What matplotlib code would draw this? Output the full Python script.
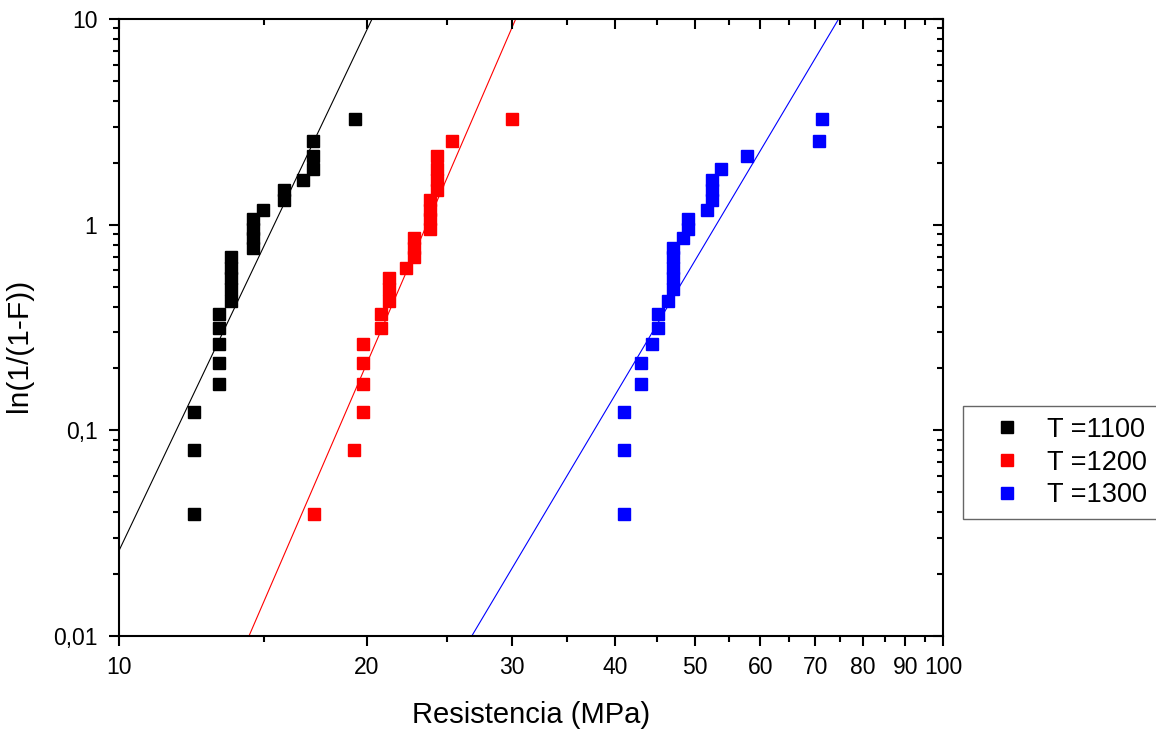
"""Weibull plot of strength at three sintering temperatures."""
import matplotlib
matplotlib.use("Agg")
import matplotlib.pyplot as plt

plt.rcParams["font.family"] = ["Liberation Sans", "DejaVu Sans"]

# ---------------------------------------------------------------------------
# Data
# ---------------------------------------------------------------------------
# ln(1/(1-F)) plotting positions, shared by all three series
ln_inv = [0.0392, 0.0800, 0.1226, 0.1671, 0.2136, 0.2624, 0.3137, 0.3677,
          0.4249, 0.4855, 0.5500, 0.6190, 0.6931, 0.7732, 0.8602, 0.9555,
          1.0609, 1.1787, 1.3122, 1.4663, 1.6487, 1.8718, 2.1595, 2.5649,
          3.2581]

res_1100 = [12.33, 12.33, 12.33, 13.21, 13.21, 13.21, 13.21, 13.21,
            13.66, 13.66, 13.66, 13.66, 13.66, 14.53, 14.53, 14.53,
            14.53, 14.97, 15.86, 15.86, 16.74, 17.18, 17.18, 17.18,
            19.34]
res_1200 = [17.24, 19.27, 19.78, 19.78, 19.78, 19.78, 20.80, 20.80,
            21.29, 21.29, 21.29, 22.30, 22.83, 22.83, 22.83, 23.85,
            23.85, 23.85, 23.85, 24.34, 24.34, 24.34, 24.34, 25.38,
            29.99]
res_1300 = [41.01, 41.01, 41.01, 43.05, 43.05, 44.39, 45.10, 45.10,
            46.42, 47.07, 47.07, 47.07, 47.07, 47.07, 48.40, 49.08,
            49.08, 51.76, 52.44, 52.44, 52.44, 53.83, 57.82, 70.65,
            71.37]

# Fitted Weibull lines: end points (x, y)
fit_1100_x = [10.0, 20.28]
fit_1100_y = [0.026, 10.0]
fit_1200_x = [14.38, 30.3]
fit_1200_y = [0.01, 10.0]
fit_1300_x = [26.8, 74.7]
fit_1300_y = [0.01, 10.0]

labels = ["T =1100", "T =1200", "T =1300"]
colors = ["#000000", "#FF0000", "#0000FF"]

x_ticks = [10, 20, 30, 40, 50, 60, 70, 80, 90, 100]
x_tick_labels = ["10", "20", "30", "40", "50", "60", "70", "80", "90", "100"]
x_minor = [15, 25, 35, 45, 55, 65, 75, 85, 95]
y_ticks = [0.01, 0.1, 1, 10]
y_tick_labels = ["0,01", "0,1", "1", "10"]
y_minor = [m * d for d in (0.01, 0.1, 1) for m in range(2, 10)]


def style_axes(ax):
    ax.set_xscale("log")
    ax.set_yscale("log")
    ax.set_xlim(10, 100)
    ax.set_ylim(0.01, 10)
    ax.set_xticks(x_ticks)
    ax.set_xticks(x_minor, minor=True)
    ax.set_yticks(y_ticks)
    ax.set_yticks(y_minor, minor=True)


fig = plt.figure(figsize=(11.56, 7.31), dpi=100)
rect = [119 / 1156, 1 - 636 / 731, (943 - 119) / 1156, (636 - 19) / 731]
ax = fig.add_axes(rect)
style_axes(ax)

series = [res_1100, res_1200, res_1300]
fits = [(fit_1100_x, fit_1100_y), (fit_1200_x, fit_1200_y), (fit_1300_x, fit_1300_y)]
for xs, (fx, fy), lab, c in zip(series, fits, labels, colors):
    ax.plot(xs, ln_inv, ls="none", marker="s", ms=9, color=c, mec=c, label=lab,
            zorder=3)
    ax.plot(fx, fy, color=c, lw=0.8, zorder=2)

ax.set_xticklabels(x_tick_labels)
ax.set_yticklabels(y_tick_labels)
ax.xaxis.set_minor_formatter(plt.NullFormatter())
ax.yaxis.set_minor_formatter(plt.NullFormatter())
ax.tick_params(which="both", direction="out", width=1.5, labelsize=16.5,
               top=False, right=False)
ax.tick_params(which="major", length=7.5)
ax.tick_params(which="minor", length=4)
ax.tick_params(axis="x", which="major", pad=7)
ax.tick_params(axis="y", which="major", pad=8)
for sp in ax.spines.values():
    sp.set_linewidth(1.5)

ax.set_xlabel("Resistencia (MPa)", fontsize=21, labelpad=16)
ax.set_ylabel("ln(1/(1-F))", fontsize=21.5)
ax.yaxis.set_label_coords((33 - 119) / 824, (636 - 345) / 617)

# top / right ticks point inward (Origin style)
ax2 = fig.add_axes(rect)
style_axes(ax2)
ax2.patch.set_visible(False)
for sp in ax2.spines.values():
    sp.set_visible(False)
ax2.tick_params(which="both", direction="in", width=1.5, bottom=False,
                left=False, top=True, right=True, labelbottom=False,
                labelleft=False)
ax2.tick_params(which="major", length=7.5)
ax2.tick_params(which="minor", length=4)

leg_top = 1 - 406 / 731
leg = ax.legend(loc="upper left",
                bbox_to_anchor=(963 / 1156, leg_top - 0.1, 200 / 1156, 0.1),
                bbox_transform=fig.transFigure, mode="expand",
                borderaxespad=0, fontsize=19.5, frameon=True, fancybox=False,
                edgecolor="#404040", markerscale=1.0, handlelength=2.46,
                handletextpad=0.25, borderpad=0.4, labelspacing=0.25)
leg.get_frame().set_linewidth(1.0)

fig.savefig("out.png", dpi=100)
